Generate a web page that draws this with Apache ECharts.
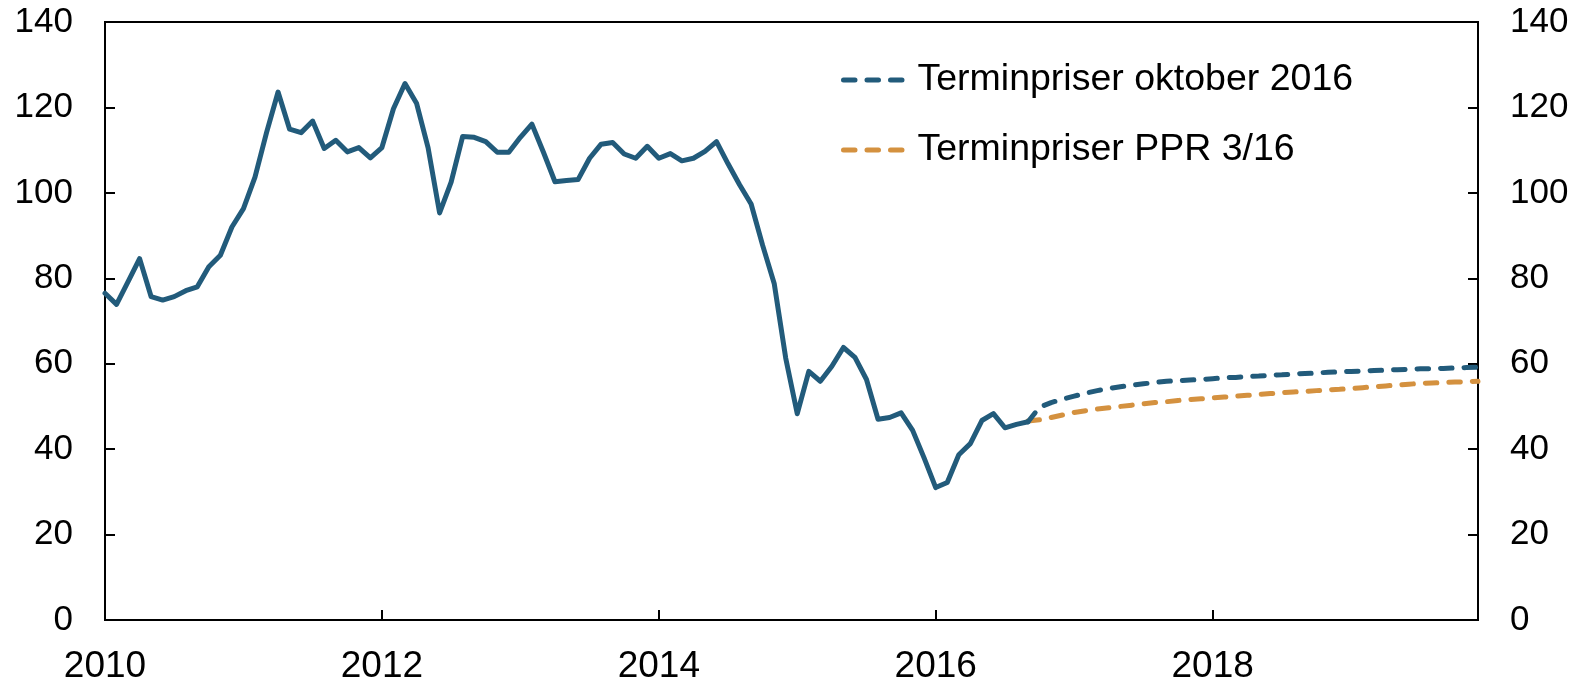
<!DOCTYPE html>
<html>
<head>
<meta charset="utf-8">
<script src="https://cdn.jsdelivr.net/npm/echarts@6/dist/echarts.min.js"></script>
<style>
html,body{margin:0;padding:0;background:#fff;}
#chart{width:1582px;height:685px;}
</style>
</head>
<body>
<div id="chart"></div>
<script>
// Monthly categories Jan 2010 - Dec 2019
const startYear = 2010, endYear = 2019;
const months = [];
for (let y = startYear; y <= endYear; y++) for (let m = 1; m <= 12; m++) months.push(y + '-' + (m < 10 ? '0' + m : m));

const yearTickLabels = ['2010', '2012', '2014', '2016', '2018'];
const yTickLabels = [0, 20, 40, 60, 80, 100, 120, 140];

// Historical oil price, Jan 2010 - Sep 2016
const history = [
  76.5, 73.9, 79.2, 84.6, 75.7, 74.9, 75.7, 77.1, 78.0, 82.7, 85.4, 92.0,
  96.3, 103.7, 114.1, 123.6, 114.9, 114.1, 116.8, 110.4, 112.3, 109.6, 110.6, 108.2,
  110.6, 119.7, 125.6, 121.0, 110.6, 95.3, 102.5, 113.2, 113.0, 112.0, 109.5, 109.5,
  113.0, 116.1, 109.5, 102.6, 102.9, 103.1, 108.1, 111.4, 111.8, 109.1, 108.1, 110.9,
  108.1, 109.2, 107.5, 108.1, 109.7, 112.0, 106.8, 101.9, 97.4, 87.7, 78.8, 61.3,
  48.3, 58.2, 55.9, 59.4, 63.8, 61.5, 56.3, 47.0, 47.4, 48.5, 44.4, 37.9,
  31.0, 32.2, 38.7, 41.3, 46.7, 48.3, 45.0, 45.8, 46.4
];

// Forward prices, Sep 2016 - Dec 2019
const fwdStart = '2016-09';
const fwdOct2016 = [
  46.4, 49.8, 50.9, 51.7,
  52.4, 53.1, 53.7, 54.2, 54.6, 55.0, 55.3, 55.6, 55.9, 56.0, 56.2, 56.3,
  56.5, 56.7, 56.8, 57.0, 57.1, 57.3, 57.4, 57.6, 57.7, 57.8, 58.0, 58.1,
  58.2, 58.3, 58.4, 58.5, 58.6, 58.7, 58.8, 58.8, 58.9, 59.0, 59.1, 59.2
];
const fwdPPR316 = [
  46.6, 46.9, 47.4, 48.0,
  48.6, 49.0, 49.4, 49.7, 50.0, 50.3, 50.6, 50.9, 51.1, 51.4, 51.6, 51.8,
  52.0, 52.2, 52.4, 52.6, 52.8, 53.0, 53.2, 53.4, 53.5, 53.7, 53.9, 54.0,
  54.2, 54.4, 54.6, 54.8, 55.0, 55.2, 55.4, 55.5, 55.6, 55.7, 55.8, 55.9
];

const seriesNames = ['Terminpriser oktober 2016', 'Terminpriser PPR 3/16'];
const blue = '#225b7b';
const orange = '#d4913f';

function pad(arr, startCat) {
  const out = new Array(months.length).fill(null);
  const s = months.indexOf(startCat);
  arr.forEach((v, i) => { out[s + i] = v; });
  return out;
}

const histData = pad(history, '2010-01');
const octData = pad(fwdOct2016, fwdStart);
const pprData = pad(fwdPPR316, fwdStart);

const FONT = 'Liberation Sans, Arial, sans-serif';
const FS_Y = 35;
const FS_X = 37;
const FS_LEG = 37.5;
const LW = 5;
const DASH = [11.5, 12];

const isYearTick = (idx) => {
  const label = months[idx];
  return label.endsWith('-01') && yearTickLabels.indexOf(label.slice(0, 4)) >= 0;
};

const yAxisCommon = {
  type: 'value', min: 0, max: 140, interval: 20,
  axisLine: { show: true, lineStyle: { color: '#000', width: 2 } },
  axisTick: { show: true, inside: true, length: 10, lineStyle: { color: '#000', width: 2 } },
  splitLine: { show: false },
  axisLabel: { color: '#000', fontSize: FS_Y, fontFamily: FONT, margin: 32,
    formatter: (v) => yTickLabels.indexOf(v) >= 0 ? String(v) : '' }
};

const chart = echarts.init(document.getElementById('chart'), null, { renderer: 'canvas' });
chart.setOption({
  animation: false,
  backgroundColor: '#fff',
  grid: { left: 105, right: 104, top: 22, bottom: 62, show: true, borderColor: '#000', borderWidth: 2, containLabel: false },
  legend: {
    data: seriesNames,
    orient: 'vertical',
    left: 836, top: 56,
    itemWidth: 66, itemHeight: 14, itemGap: 32,
    itemStyle: { opacity: 0 },
    lineStyle: { width: LW, type: DASH, cap: 'round' },
    textStyle: { color: '#000', fontSize: FS_LEG, fontFamily: FONT, padding: [0, 0, 0, 3] }
  },
  xAxis: {
    type: 'category', data: months, boundaryGap: false,
    axisLine: { show: true, lineStyle: { color: '#000', width: 2 } },
    axisTick: { show: true, inside: true, length: 10, interval: (i) => isYearTick(i), lineStyle: { color: '#000', width: 2 } },
    axisLabel: { color: '#000', fontSize: FS_X, fontFamily: FONT, margin: 28, interval: (i) => isYearTick(i),
      formatter: (v) => v.slice(0, 4) },
    splitLine: { show: false }
  },
  yAxis: [
    Object.assign({ position: 'left' }, yAxisCommon),
    Object.assign({ position: 'right' }, yAxisCommon)
  ],
  series: [
    { name: 'history', type: 'line', data: histData, symbol: 'none', connectNulls: false,
      lineStyle: { color: blue, width: LW, cap: 'round', join: 'round' }, itemStyle: { color: blue }, z: 3 },
    { name: seriesNames[0], type: 'line', data: octData, symbol: 'none',
      lineStyle: { color: blue, width: LW, type: DASH, cap: 'round' }, itemStyle: { color: blue }, z: 2 },
    { name: seriesNames[1], type: 'line', data: pprData, symbol: 'none',
      lineStyle: { color: orange, width: LW, type: DASH, cap: 'round' }, itemStyle: { color: orange }, z: 1 }
  ]
});
</script>
</body>
</html>
